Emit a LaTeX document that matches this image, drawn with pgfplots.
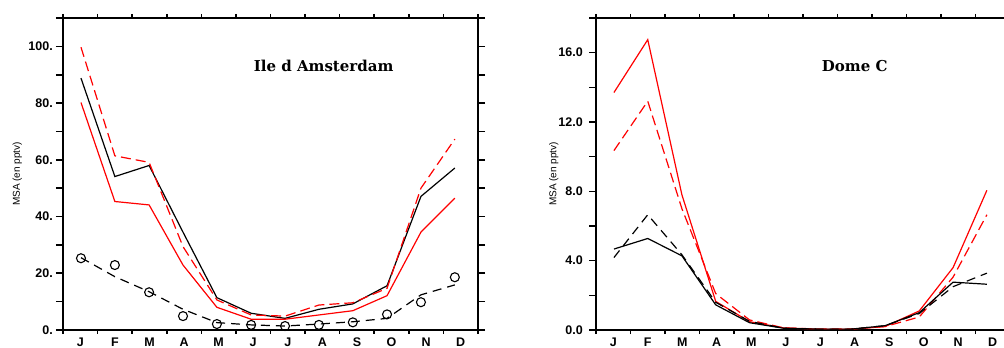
\documentclass[border=0pt]{standalone}
\usepackage{fontspec}
\setmainfont{Liberation Sans}
\newfontfamily\titlefont{DejaVu Serif}
\usepackage{pgfplots}
\pgfplotsset{compat=1.18}
\begin{document}
\begin{tikzpicture}
\pgfplotsset{
  msa/.style={
    scale only axis, height=312pt, anchor=south west,
    xmin=0, xmax=12,
    axis line style={line width=2pt},
    tick pos=both, tick align=outside,
    major tick length=7pt,
    every tick/.style={black, line width=1.6pt},
    xtick={0,...,12}, xticklabels={},
    xtick style={/pgfplots/major tick length=4pt},
    extra x ticks={0.5,1.5,2.5,3.5,4.5,5.5,6.5,7.5,8.5,9.5,10.5,11.5},
    extra x tick labels={J,F,M,A,M,J,J,A,S,O,N,D},
    extra x tick style={major tick length=0pt, tick style={draw=none},
      xticklabel style={anchor=north, inner sep=0pt, yshift=-7.5pt}},
    tick label style={font=\fontsize{12.5}{14}\selectfont\bfseries},
    yticklabel style={anchor=east, inner sep=0pt},
    ylabel={MSA (en pptv)},
    ylabel style={anchor=center, font=\fontsize{10}{12}\selectfont},
    clip=false,
  },
  ser/.style={no marks, line width=1.2pt},
}
\begin{axis}[msa, at={(63pt,18pt)}, width=415pt,
  ymin=0, ymax=110, ytick={0,10,...,110},
  yticklabels={0.,,20.,,40.,,60.,,80.,,100.,},
  yticklabel style={xshift=-3pt},
  ylabel style={at={(axis description cs:-0.11,0.5)}}]
\addplot[ser, black] coordinates {(0.52,88.8)(1.50,54.1)(2.49,58.0)(3.47,34.5)(4.45,11.4)(5.44,5.9)(6.42,4.1)(7.40,7.3)(8.38,9.2)(9.37,15.6)(10.35,47.1)(11.33,57.1)};
\addplot[ser, red] coordinates {(0.52,80.2)(1.50,45.3)(2.49,44.1)(3.47,22.9)(4.45,8.0)(5.44,3.8)(6.42,3.8)(7.40,5.3)(8.38,6.8)(9.37,12.1)(10.35,34.5)(11.33,46.5)};
\addplot[ser, red, dash pattern=on 10pt off 5pt] coordinates {(0.52,99.7)(1.50,61.4)(2.49,59.1)(3.47,29.4)(4.45,10.6)(5.44,5.3)(6.42,4.9)(7.40,8.8)(8.38,9.6)(9.37,14.7)(10.35,50.0)(11.33,67.3)};
\addplot[ser, black, dash pattern=on 9pt off 6pt] coordinates {(0.52,25.5)(1.50,18.8)(2.49,13.5)(3.47,7.3)(4.45,2.6)(5.44,1.8)(6.42,1.4)(7.40,2.1)(8.38,2.9)(9.37,4.1)(10.35,12.4)(11.33,15.9)};
\addplot[only marks, mark=o, mark size=4.5pt, mark options={black, line width=1.1pt}] coordinates {(0.52,25.3)(1.50,22.9)(2.49,13.3)(3.47,4.9)(4.45,2.1)(5.44,1.8)(6.42,1.4)(7.40,1.8)(8.38,2.7)(9.37,5.5)(10.35,9.8)(11.33,18.6)};
\node[font=\titlefont\bfseries\fontsize{15}{18}\selectfont] at (rel axis cs:0.628,0.847) {Ile d Amsterdam};
\end{axis}
\begin{axis}[msa, at={(596pt,18pt)}, width=414pt,
  ymin=0, ymax=18, ytick={0,2,...,18},
  yticklabels={0.0,,4.0,,8.0,,12.0,,16.0,},
  yticklabel style={xshift=-6pt},
  ylabel style={at={(axis description cs:-0.102,0.5)}}]
\addplot[ser, red] coordinates {(0.52,13.7)(1.50,16.75)(2.49,7.8)(3.47,1.65)(4.45,0.48)(5.44,0.12)(6.42,0.05)(7.40,0.05)(8.38,0.2)(9.37,1.1)(10.35,3.6)(11.33,8.06)};
\addplot[ser, red, dash pattern=on 10pt off 5pt] coordinates {(0.52,10.35)(1.50,13.2)(2.49,7.0)(3.47,2.1)(4.45,0.58)(5.44,0.12)(6.42,0.06)(7.40,0.06)(8.38,0.2)(9.37,0.75)(10.35,3.05)(11.33,6.65)};
\addplot[ser, black] coordinates {(0.52,4.67)(1.50,5.28)(2.49,4.28)(3.47,1.45)(4.45,0.42)(5.44,0.1)(6.42,0.05)(7.40,0.05)(8.38,0.25)(9.37,1.0)(10.35,2.76)(11.33,2.64)};
\addplot[ser, black, dash pattern=on 9pt off 6pt] coordinates {(0.52,4.18)(1.50,6.65)(2.49,4.34)(3.47,1.6)(4.45,0.5)(5.44,0.1)(6.42,0.05)(7.40,0.05)(8.38,0.25)(9.37,0.95)(10.35,2.5)(11.33,3.28)};
\node[font=\titlefont\bfseries\fontsize{15}{18}\selectfont] at (rel axis cs:0.625,0.847) {Dome C};
\end{axis}
\pgfresetboundingbox
\useasboundingbox (0,0) rectangle (1004pt,348pt);
\end{tikzpicture}
\end{document}
